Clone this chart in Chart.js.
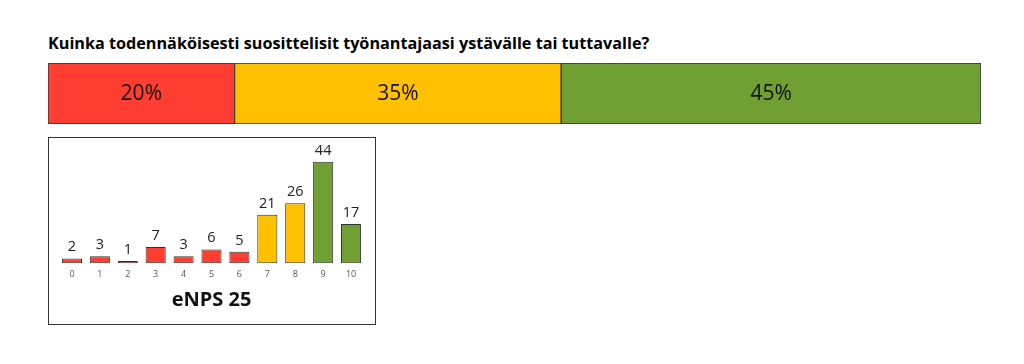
<!DOCTYPE html>
<html>
<head>
<meta charset="utf-8">
<script src="https://cdn.jsdelivr.net/npm/chart.js@4"></script>
<style>
  html, body { margin:0; padding:0; background:#fff; }
  body { width:1024px; height:364px; position:relative; overflow:hidden; font-family:"Open Sans", sans-serif; }
  #title { position:absolute; left:48px; top:32px; font-weight:bold; font-size:16.2px; color:#000; white-space:nowrap; }
  #c1wrap { position:absolute; left:48px; top:63px; width:933px; height:61px; }
  #box { position:absolute; left:48px; top:137px; width:326px; height:186px; border:1px solid #333; }
  #c2wrap { position:absolute; left:0; top:0; width:326px; height:186px; }
</style>
</head>
<body>
<div id="title">Kuinka todennäköisesti suosittelisit työnantajaasi ystävälle tai tuttavalle?</div>
<div id="c1wrap"><canvas id="c1"></canvas></div>
<div id="box"><div id="c2wrap"><canvas id="c2"></canvas></div></div>
<script>
// ---- data ----
const groupNames = ['Arvostelijat', 'Passiiviset', 'Suosittelijat'];
const groupShares = [20, 35, 45];
const scoreLabels = ['0','1','2','3','4','5','6','7','8','9','10'];
const scoreCounts = [2, 3, 1, 7, 3, 6, 5, 21, 26, 44, 17];
const enpsTitle = 'eNPS 25';

const RED = '#FF3D30', YELLOW = '#FFC000', GREEN = '#70A033', EDGE = '#333333';
const groupColors = [RED, YELLOW, GREEN];
function colorForScore(s) { const n = Number(s); return n <= 6 ? RED : (n <= 8 ? YELLOW : GREEN); }

const FONT = '"Open Sans", sans-serif';

// plugin: percent labels inside stacked bar
const percentLabels = {
  id: 'percentLabels',
  afterDatasetsDraw(chart) {
    const ctx = chart.ctx;
    ctx.save();
    ctx.font = '21px ' + FONT;
    ctx.fillStyle = '#111';
    ctx.textAlign = 'center';
    ctx.textBaseline = 'middle';
    chart.data.datasets.forEach((ds, i) => {
      const el = chart.getDatasetMeta(i).data[0];
      const cx = (el.x + el.base) / 2;
      ctx.fillText(ds.data[0] + '%', cx, el.y + 1);
    });
    ctx.restore();
  }
};

new Chart(document.getElementById('c1'), {
  type: 'bar',
  data: {
    labels: [''],
    datasets: groupNames.map((n, i) => ({
      label: n,
      data: [groupShares[i]],
      backgroundColor: groupColors[i],
      borderColor: EDGE,
      borderWidth: 1,
      borderSkipped: false,
      categoryPercentage: 1,
      barPercentage: 1
    }))
  },
  options: {
    indexAxis: 'y',
    responsive: true,
    maintainAspectRatio: false,
    animation: false,
    layout: { padding: 0 },
    plugins: { legend: { display: false }, tooltip: { enabled: false }, title: { display: false } },
    scales: {
      x: { stacked: true, min: 0, max: 100, display: false },
      y: { stacked: true, display: false }
    }
  },
  plugins: [percentLabels]
});

// plugin: value labels above bars
const valueLabels = {
  id: 'valueLabels',
  afterDatasetsDraw(chart) {
    const ctx = chart.ctx;
    ctx.save();
    ctx.font = '14.5px ' + FONT;
    ctx.fillStyle = '#222';
    ctx.textAlign = 'center';
    ctx.textBaseline = 'bottom';
    const meta = chart.getDatasetMeta(0);
    meta.data.forEach((el, i) => {
      ctx.fillText(String(chart.data.datasets[0].data[i]), el.x, el.y - 4);
    });
    ctx.restore();
  }
};

new Chart(document.getElementById('c2'), {
  type: 'bar',
  data: {
    labels: scoreLabels,
    datasets: [{
      data: scoreCounts,
      backgroundColor: scoreLabels.map(colorForScore),
      borderColor: EDGE,
      borderWidth: 1,
      borderSkipped: false,
      categoryPercentage: 1,
      barPercentage: 0.72
    }]
  },
  options: {
    responsive: true,
    maintainAspectRatio: false,
    animation: false,
    layout: { padding: { left: 9, right: 10, top: 10, bottom: 12 } },
    plugins: {
      legend: { display: false },
      tooltip: { enabled: false },
      title: {
        display: true,
        position: 'bottom',
        text: enpsTitle,
        color: '#111',
        font: { family: FONT, size: 20, weight: 'bold', lineHeight: 1.2 },
        padding: { top: 2, bottom: 0 }
      }
    },
    scales: {
      x: {
        grid: { display: false, drawTicks: false },
        border: { display: false },
        ticks: { color: '#555', font: { family: FONT, size: 9 }, padding: 6, maxRotation: 0 }
      },
      y: { display: false, min: 0, max: 50 }
    }
  },
  plugins: [valueLabels]
});
</script>
</body>
</html>
